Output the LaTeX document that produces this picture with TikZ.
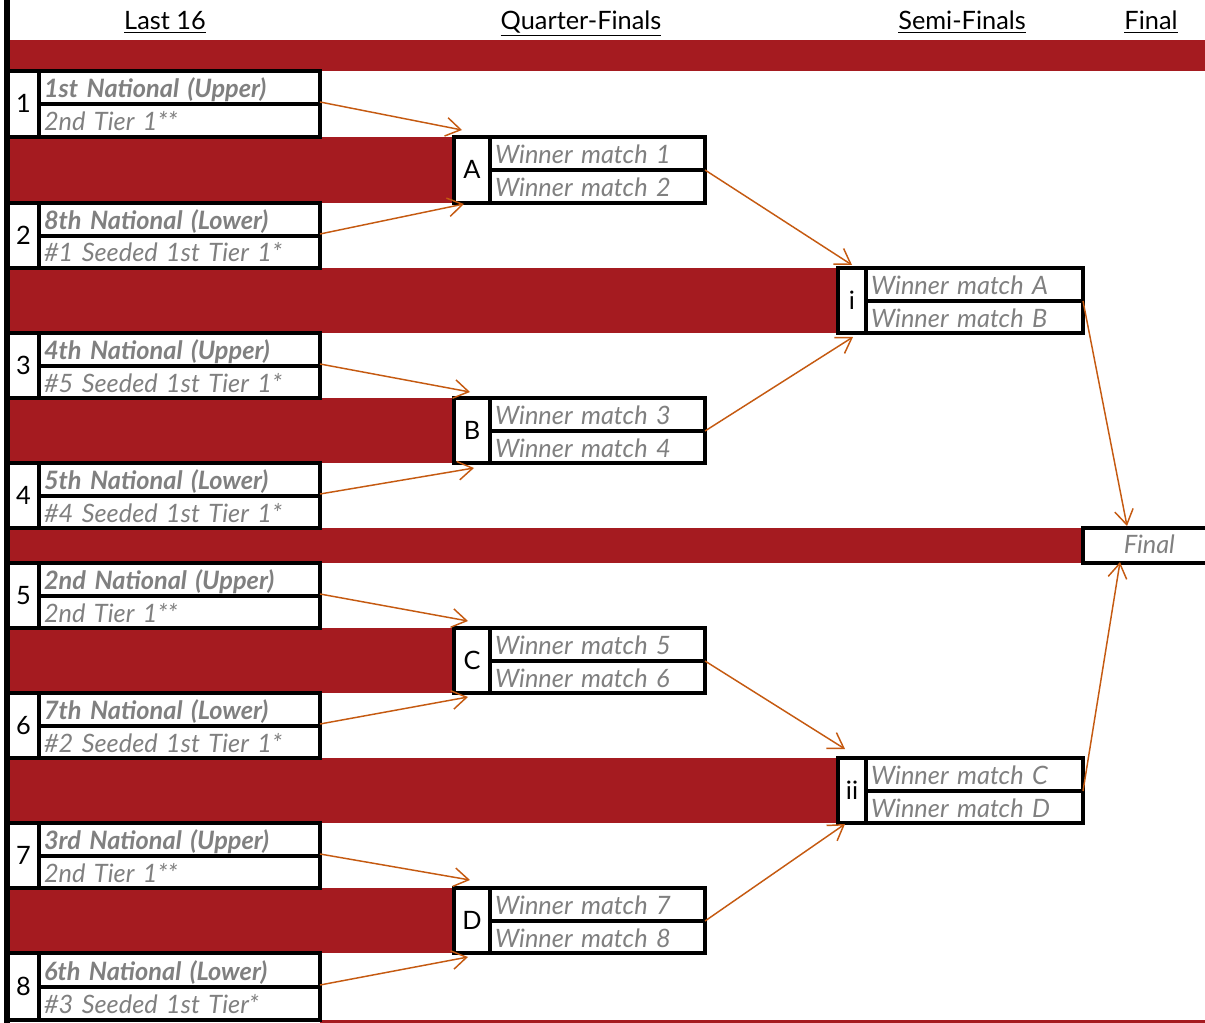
\documentclass[tikz,border=0pt]{standalone}
\usepackage{fontspec}
\setmainfont{Lato}
\usetikzlibrary{arrows.meta,calc}
\definecolor{band}{HTML}{A51B20}
\definecolor{txtgray}{HTML}{808080}
\definecolor{arr}{HTML}{C55A11}
\begin{document}
\begin{tikzpicture}[x=0.75pt,y=-0.75pt,
  sz/.style n args={2}{minimum width=(#1)*0.75pt,minimum height=(#2)*0.75pt},
  cellbase/.style={draw=black,line width=2.6pt,outer sep=0pt,inner sep=0pt,anchor=north west,fill=white},
  numcell/.style={cellbase,font=\fontsize{19pt}{21pt}\selectfont,text height=0.72em+6pt,text depth=0pt},
  txtcell/.style={cellbase,inner xsep=3.75pt,align=left,text=txtgray,
     font=\fontsize{19pt}{21pt}\selectfont\itshape,text height=0.75em+7.5pt,text depth=0pt},
  mcell/.style={txtcell,text width=203.25pt},
  qcell/.style={txtcell,text width=153.75pt},
  scell/.style={txtcell,text width=155.25pt},
  hdr/.style={anchor=base,inner sep=0pt,font=\fontsize{19pt}{21pt}\selectfont},
  band/.style={fill=band},
  conn/.style={draw=arr,line width=1.1pt,-{Straight Barb[length=11pt,width=14pt]}}
]
\useasboundingbox (0,0) rectangle (1205,1023);
\fill[white] (0,0) rectangle (1205,1023);

% headers
\node[hdr] (h1) at (165,30) {\underline{Last 16}};
\node[hdr] (h2) at (581,30) {\underline{Quarter-Finals}};
\node[hdr] (h3) at (962,30) {\underline{Semi-Finals}};
\node[hdr] (h4) at (1151,30) {\underline{Final}};

% red bands
\fill[band] (10,40) rectangle (1205,71);
\foreach \t/\b in {137/203,398/463,628/693,888/953}
  \fill[band] (10,\t) rectangle (454,\b);
\foreach \t/\b in {268/333,758/823}
  \fill[band] (10,\t) rectangle (838,\b);
\fill[band] (10,528) rectangle (1083,563);
\fill[band] (320,1020) rectangle (1205,1023);

% left border
\fill[black] (4,0) rectangle (9.5,1023);

% Last 16 boxes
\foreach \k/\T/\M/\B/\one/\two in {
  1/71/104/137/{1st National (Upper)}/{2nd Tier 1**},
  2/203/236/268/{8th National (Lower)}/{\#1 Seeded 1st Tier 1*},
  3/333/366/398/{4th National (Upper)}/{\#5 Seeded 1st Tier 1*},
  4/463/496/528/{5th National (Lower)}/{\#4 Seeded 1st Tier 1*},
  5/563/596/628/{2nd National (Upper)}/{2nd Tier 1**},
  6/693/726/758/{7th National (Lower)}/{\#2 Seeded 1st Tier 1*},
  7/823/856/888/{3rd National (Upper)}/{2nd Tier 1**},
  8/953/987/1020/{6th National (Lower)}/{\#3 Seeded 1st Tier*}}
{
  \node[numcell,sz={31}{\B-\T}] (n\k) at (8,\T) {\k};
  \node[mcell,sz={281}{\M-\T}] (m\k a) at (39,\T) {\bfseries\one};
  \node[mcell,sz={281}{\B-\M}] (m\k b) at (39,\M) {\two};
}

% Quarter-final boxes
\foreach \k/\T/\M/\B/\one/\two in {
  A/137/170/203/1/2, B/398/431/463/3/4, C/628/661/693/5/6, D/888/921/953/7/8}
{
  \node[numcell,sz={36}{\B-\T}] (n\k) at (454,\T) {\k};
  \node[qcell,sz={215}{\M-\T}] (q\k a) at (490,\T) {Winner match \one};
  \node[qcell,sz={215}{\B-\M}] (q\k b) at (490,\M) {Winner match \two};
}

% Semi-final boxes
\foreach \k/\T/\M/\B/\one/\two in {i/268/301/333/A/B, ii/758/791/823/C/D}
{
  \node[numcell,sz={28}{\B-\T}] (n\k) at (838,\T) {\k};
  \node[scell,sz={217}{\M-\T}] (s\k a) at (866,\T) {Winner match \one};
  \node[scell,sz={217}{\B-\M}] (s\k b) at (866,\M) {Winner match \two};
}

% Final
\node[anchor=north west,sz={122}{35},inner sep=0pt,outer sep=0pt,text=txtgray,
  font=\fontsize{19pt}{21pt}\selectfont\itshape,text height=0.75em+5pt,text depth=0pt] (fin) at (1083,528) {\hspace*{8pt}Final};
\draw[line width=2.6pt] (fin.north east) -- (fin.north west) -- (fin.south west) -- (fin.south east);

% connectors: last 16 -> quarter-finals
\draw[conn] ($(m1a.south east)+(0,-2)$) -- ($(nA.north west)+(8,-7)$);
\draw[conn] ($(m2a.south east)+(0,-2)$) -- ($(nA.south west)+(10,1)$);
\draw[conn] ($(m3a.south east)+(0,-2)$) -- ($(nB.north west)+(16,-6)$);
\draw[conn] ($(m4a.south east)+(0,-2)$) -- ($(nB.south west)+(20,5)$);
\draw[conn] ($(m5a.south east)+(0,-2)$) -- ($(nC.north west)+(14,-7)$);
\draw[conn] ($(m6a.south east)+(0,-2)$) -- ($(nC.south west)+(14,4)$);
\draw[conn] ($(m7a.south east)+(0,-2)$) -- ($(nD.north west)+(16,-8)$);
\draw[conn] ($(m8a.south east)+(0,-2)$) -- ($(nD.south west)+(14,4)$);
% quarter-finals -> semi-finals
\draw[conn] (qAa.south east) -- ($(ni.north west)+(14,-3)$);
\draw[conn] (qBa.south east) -- ($(ni.south west)+(15,4)$);
\draw[conn] (qCa.south east) -- ($(nii.north west)+(7,-9)$);
\draw[conn] (qDa.south east) -- ($(nii.south west)+(7,1)$);
% semi-finals -> final
\draw[conn] (sia.south east) -- ($(fin.north west)+(44,-2)$);
\draw[conn] (siia.south east) -- ($(fin.south west)+(37,-1)$);
\end{tikzpicture}
\end{document}
